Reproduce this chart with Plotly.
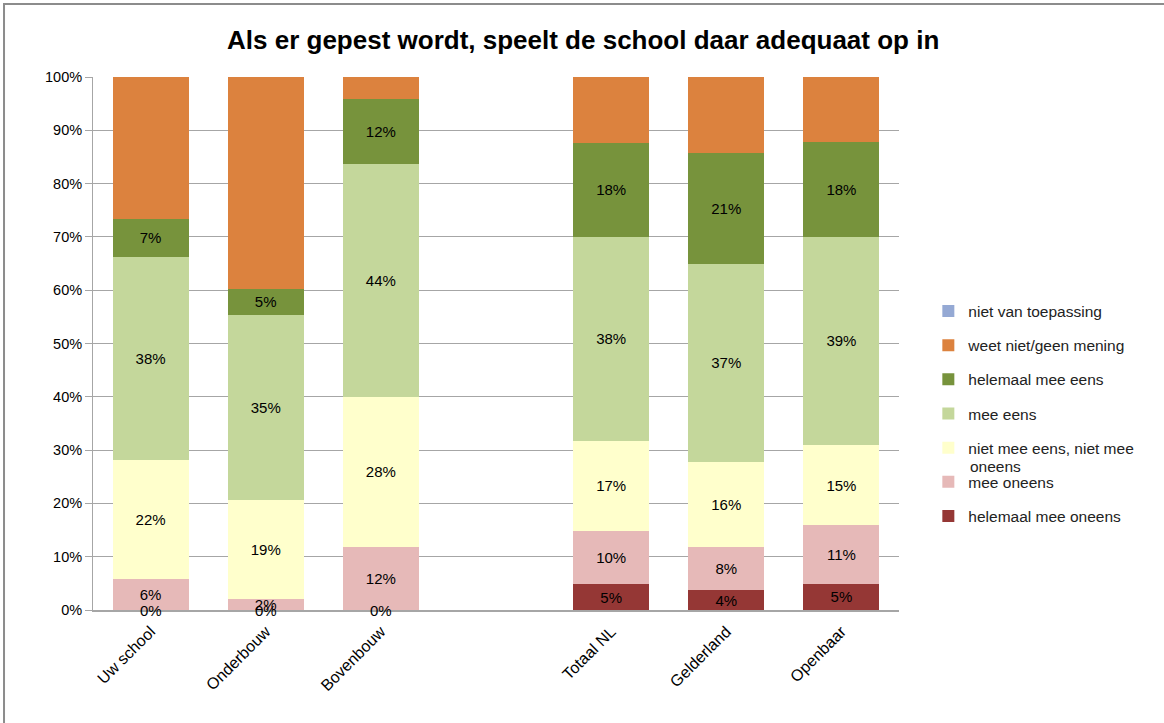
import plotly.graph_objects as go

# categories (the blank one is the gap between school and benchmark bars)
categories = ["Uw school", "Onderbouw", "Bovenbouw", " ", "Totaal NL", "Gelderland", "Openbaar"]

# percentages per answer, bottom to top of the stack
helemaal_mee_oneens = [0, 0, 0, None, 4.8, 3.7, 4.9]
mee_oneens = [5.8, 2.1, 11.8, None, 10.1, 8.1, 11.0]
neutraal = [22.4, 18.6, 28.2, None, 16.9, 16.0, 15.1]
mee_eens = [38.1, 34.6, 43.7, None, 38.1, 37.1, 39.0]
helemaal_mee_eens = [7.1, 5.0, 12.2, None, 17.8, 20.8, 17.8]
weet_niet = [26.6, 39.7, 4.1, None, 12.3, 14.3, 12.2]
niet_van_toepassing = [0, 0, 0, None, 0, 0, 0]

series = [
  ("helemaal mee oneens", helemaal_mee_oneens, "#953735", True),
  ("mee oneens", mee_oneens, "#E6B9B8", True),
  ("niet mee eens, niet mee", neutraal, "#FFFFCC", True),
  ("mee eens", mee_eens, "#C4D79B", True),
  ("helemaal mee eens", helemaal_mee_eens, "#77933C", True),
  ("weet niet/geen mening", weet_niet, "#DC823E", False),
  ("niet van toepassing", niet_van_toepassing, "#95A9D4", False),
]

FONT = "Liberation Sans, Arial, sans-serif"

fig = go.Figure()
annotations = []
base = [0] * len(categories)
for i, (name, vals, color, labelled) in enumerate(series):
  fig.add_trace(go.Bar(
    x=categories,
    y=vals,
    name=name,
    legendgroup=f"g{i}",
    legendrank=100 * (len(series) - i),
    marker=dict(color=color, line=dict(width=0)),
    texttemplate="%{y:.0f}%" if labelled else None,
    textposition="inside" if labelled else "none",
    insidetextanchor="middle",
    textangle=0,
    constraintext="none",
    textfont=dict(size=15, color="black", family=FONT),
    cliponaxis=False,
  ))
  for j, v in enumerate(vals):
    if v is None:
      continue
    # zero-height segments still get their 0% label, like the original
    if labelled and v == 0:
      annotations.append(dict(x=categories[j], y=base[j], text="0%", showarrow=False,
                              yanchor="middle", font=dict(size=15, color="black", family=FONT)))
    base[j] += v

# second line of the wrapped legend entry (Excel lets it run into the next row)
annotations.append(dict(xref="paper", yref="paper", x=1.0856, y=0.270, text="oneens",
                        showarrow=False, xanchor="left", yanchor="middle",
                        font=dict(size=15.5, family=FONT, color="#222")))

# grey frame of the chart area
fig.add_shape(type="rect", xref="paper", yref="paper", x0=-0.1104, x1=1.6, y0=-0.5, y1=1.137,
              line=dict(color="#8c8c8c", width=2), layer="below")

fig.update_layout(
  barmode="stack",
  bargap=0.34,
  width=1164,
  height=723,
  margin=dict(l=93, r=265, t=77, b=113),
  paper_bgcolor="white",
  plot_bgcolor="white",
  font=dict(family=FONT, size=14, color="black"),
  title=dict(text="<b>Als er gepest wordt, speelt de school daar adequaat op in</b>",
             x=0.501, xanchor="center", y=0.945, yanchor="middle",
             font=dict(size=26, family=FONT, color="black")),
  legend=dict(x=1.0364, xanchor="left", y=0.592, yanchor="top",
              traceorder="grouped", tracegroupgap=11,
              font=dict(size=15.5, family=FONT, color="#222"),
              itemwidth=30),
  annotations=annotations,
  showlegend=True,
)
fig.update_yaxes(range=[0, 100], dtick=10, ticksuffix="%", showgrid=True, gridcolor="#a6a6a6",
                 gridwidth=1, showline=True, linecolor="#a6a6a6", ticks="outside", ticklen=7,
                 tickcolor="#a6a6a6", zeroline=False, tickfont=dict(size=14.5))
fig.update_xaxes(type="category", showline=True, linecolor="#a6a6a6", linewidth=2,
                 tickangle=-45, ticks="outside", ticklen=4, tickcolor="rgba(0,0,0,0)",
                 tickfont=dict(size=16))

# drop the default page margin so the figure fills the window from the corner
fig.write_html("out.html", config={"displayModeBar": False},
               post_script="document.body.style.margin='0';")
